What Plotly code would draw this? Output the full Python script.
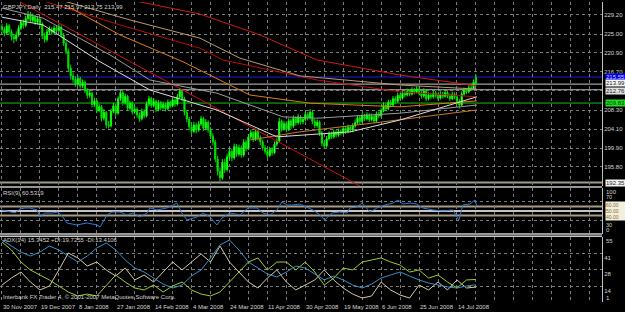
import plotly.graph_objects as go

# ---------------- data ----------------
closes = [226.0, 225.2, 226.8, 225.5, 224.5, 223.9, 224.8, 226.3, 227.5, 226.9,
          228.4, 229.3, 228.0, 228.8, 227.6, 228.3, 227.2, 224.6, 223.8, 225.5,
          226.0, 225.4, 226.3, 225.8, 226.5, 224.8, 223.0, 221.2, 217.5, 215.8,
          215.0, 214.0, 215.2, 213.6, 214.4, 212.6, 211.5, 212.0, 209.5, 210.3,
          208.2, 209.0, 206.5, 207.8, 205.0, 204.8, 208.0, 209.2, 207.6, 210.8,
          212.1, 209.9, 211.3, 208.7, 209.8, 207.9, 208.5, 207.2, 206.4, 208.0,
          207.0, 209.6, 210.8, 209.3, 210.2, 208.4, 209.9, 208.8, 209.5, 208.6,
          210.0, 209.2, 210.5, 209.6, 211.2, 212.4, 210.8, 207.8, 206.3, 204.6,
          203.6, 205.0, 203.9, 205.2, 206.4, 204.3, 205.6, 204.0, 202.6, 201.3,
          197.5, 194.8, 193.4, 196.8, 195.2, 198.0, 199.2, 197.8, 200.3, 198.6,
          200.0, 198.4, 201.2, 199.8, 202.4, 203.3, 201.9, 203.6, 202.2, 201.3,
          200.0, 199.2, 198.3, 199.6, 198.9, 200.8, 201.5, 205.8, 204.2, 205.3,
          204.0, 205.9, 204.8, 206.5, 205.5, 206.8, 205.7, 206.2, 207.3, 206.6,
          207.8, 205.8, 204.9, 205.6, 203.2, 201.0, 200.4, 202.0, 203.0, 202.4,
          203.4, 202.8, 203.6, 203.2, 204.2, 203.6, 204.5, 203.9, 204.8, 205.5,
          206.6, 205.8, 207.0, 206.4, 207.2, 206.2, 206.9, 205.9, 207.4, 207.0,
          208.2, 209.3, 208.6, 210.0, 209.4, 210.8, 210.2, 211.5, 210.9, 212.0,
          211.6, 212.4, 211.8, 212.7, 212.2, 212.9, 212.0, 211.4, 212.5, 210.8,
          211.6, 211.2, 212.0, 211.5, 210.9, 211.8, 211.3, 212.1, 211.4, 210.8,
          211.7, 211.2, 210.2, 209.4, 211.8, 212.6, 212.3, 213.2, 213.0, 214.4,
          213.99]
highs = [227.3, 226.6, 227.4, 227.2, 226.0, 225.0, 225.6, 226.9, 228.1, 228.2,
         229.0, 230.1, 229.8, 229.5, 229.2, 228.9, 228.7, 227.6, 225.3, 226.1,
         226.7, 226.5, 226.9, 226.8, 227.3, 226.9, 225.2, 223.6, 221.8, 218.3,
         216.6, 215.7, 215.9, 215.6, 215.0, 214.8, 213.1, 212.7, 212.3, 211.0,
         210.7, 209.7, 209.4, 208.5, 208.1, 205.9, 208.6, 209.9, 209.6, 211.3,
         212.8, 212.5, 211.9, 211.7, 210.4, 210.2, 209.1, 208.9, 207.8, 208.6,
         208.5, 210.2, 211.4, 211.2, 210.9, 210.6, 210.5, 210.3, 210.1, 209.9,
         210.6, 210.4, 211.1, 210.9, 211.8, 213.1, 212.8, 211.2, 208.3, 206.8,
         205.2, 205.7, 205.5, 205.9, 207.0, 206.8, 206.3, 206.0, 204.5, 203.2,
         201.8, 198.2, 195.6, 197.5, 197.6, 198.7, 200.0, 199.8, 200.9, 200.8,
         200.7, 200.5, 201.9, 201.7, 203.0, 204.0, 203.7, 204.2, 204.0, 202.7,
         201.8, 200.6, 199.8, 200.2, 200.1, 201.4, 202.1, 206.6, 206.2, 205.9,
         205.8, 206.5, 206.3, 207.1, 206.9, 207.4, 207.2, 206.8, 207.9, 207.8,
         208.5, 208.2, 206.3, 206.2, 206.0, 203.7, 201.6, 202.6, 203.6, 203.5,
         204.0, 203.9, 204.2, 204.1, 204.8, 204.7, 205.1, 205.0, 205.4, 206.2,
         207.2, 207.1, 207.6, 207.5, 207.8, 207.6, 207.5, 207.3, 208.0, 208.0,
         208.8, 210.0, 209.8, 210.6, 210.5, 211.4, 211.3, 212.1, 212.0, 212.6,
         212.7, 213.0, 212.9, 213.3, 213.2, 213.5, 213.3, 212.5, 213.1, 212.9,
         212.2, 212.1, 212.6, 212.5, 212.0, 212.4, 212.3, 212.7, 212.6, 211.9,
         212.3, 212.2, 211.6, 210.7, 212.4, 213.2, 213.1, 213.8, 213.9, 215.0,
         215.97]
lows = [225.1, 224.5, 224.9, 224.9, 223.6, 223.0, 223.4, 224.4, 225.9, 226.2,
        226.5, 227.9, 227.4, 227.5, 227.0, 227.1, 226.5, 223.9, 223.1, 223.3,
        225.0, 224.8, 225.0, 225.2, 225.4, 224.2, 222.4, 220.6, 216.8, 215.0,
        214.3, 213.4, 213.6, 213.0, 213.1, 212.0, 210.8, 211.0, 208.9, 209.0,
        207.6, 207.8, 205.8, 206.0, 204.3, 204.2, 204.5, 207.6, 207.0, 207.3,
        210.3, 209.3, 209.5, 208.1, 208.2, 207.3, 207.5, 206.6, 205.7, 206.0,
        206.5, 206.7, 209.1, 208.8, 208.9, 207.8, 208.0, 208.2, 208.4, 208.0,
        208.2, 208.7, 208.9, 209.0, 209.3, 210.9, 210.2, 207.1, 205.6, 203.9,
        202.9, 203.2, 203.2, 203.5, 204.8, 203.7, 203.9, 203.3, 201.9, 200.5,
        196.8, 193.9, 192.6, 193.0, 194.5, 194.8, 197.4, 197.0, 197.4, 198.0,
        198.1, 197.8, 198.0, 199.2, 199.5, 201.9, 201.3, 201.5, 201.6, 200.6,
        199.4, 198.6, 197.7, 198.0, 198.3, 198.6, 200.3, 201.2, 203.6, 203.8,
        203.4, 203.7, 204.2, 204.4, 204.9, 205.1, 205.1, 205.2, 205.8, 206.0,
        206.2, 205.2, 204.3, 204.4, 202.6, 200.3, 199.7, 200.0, 201.6, 201.9,
        202.0, 202.3, 202.4, 202.7, 202.9, 203.1, 203.2, 203.4, 203.5, 204.4,
        205.1, 205.2, 205.4, 205.9, 206.0, 205.7, 205.8, 205.4, 205.6, 206.5,
        206.7, 207.8, 208.0, 208.3, 208.9, 209.1, 209.7, 209.9, 210.4, 210.6,
        211.1, 211.3, 211.3, 211.5, 211.7, 211.9, 211.5, 210.8, 211.0, 210.2,
        210.4, 210.7, 210.8, 211.0, 210.4, 210.6, 210.8, 211.0, 210.9, 210.3,
        210.5, 210.7, 209.5, 208.6, 209.1, 211.4, 211.8, 212.0, 212.5, 212.7,
        213.75]
first_open = 226.6
last_open = 215.47
opens = [first_open] + closes[:-2] + [last_open]
bars = list(range(len(closes)))

# moving-average / trend lines: (bar, price) vertices
trend_bars = [6, 151];                 trend_vals = [232.5, 191.6]
red_top_bars = [54, 83.5, 108.9, 132.9, 167.9, 200.4]
red_top_vals = [232.5, 229.4, 224.8, 219.3, 216.0, 213.6]
red2_bars = [16, 49.8, 83.5, 93.2, 132.9, 167.9, 200.4]
red2_vals = [232.5, 227.0, 221.9, 219.3, 214.9, 212.3, 211.2]
tan_bars = [24.5, 54, 83.5, 100.4, 125.7, 167.9, 200.4]
tan_vals = [232.5, 228.1, 224.1, 219.7, 215.8, 213.8, 212.9]
orange_bars = [26.6, 49.8, 76.4, 104.6, 130.0, 167.9, 200.4]
orange_vals = [231.4, 224.8, 218.9, 211.6, 209.8, 209.0, 210.3]
gray_bars = [0, 17.3, 45.6, 62.4, 90.7, 118.6, 132.9, 167.9, 200.4]
gray_vals = [230.7, 228.5, 220.4, 214.9, 212.0, 206.8, 206.5, 207.6, 209.4]
white_bars = [0, 17.3, 41.4, 62.4, 90.7, 116.0, 147.0, 167.9, 200.4]
white_vals = [228.7, 227.0, 218.9, 212.7, 208.3, 202.4, 203.5, 206.1, 211.2]
brown_bars = [104.6, 125.7, 160.8, 200.4]
brown_vals = [201.7, 203.5, 205.7, 208.3]

# horizontal price levels
level_blue = 215.55
level_close = 213.99
level_gray = 212.76
level_green = 209.83
level_low = 192.35

# RSI(9)
rsi_bars = [0, 3.4, 5.5, 7.6, 9.7, 11.8, 14.8, 16.0, 18.1, 21.5, 23.6, 25.7, 27.4,
            31.6, 35.9, 40.1, 41.4, 42.6, 44.3, 46.4, 49.8, 52.7, 55.3, 58.2, 61.2,
            62.4, 65.4, 69.6, 72.2, 73.8, 75.9, 78.1, 82.3, 84.8, 87.8, 90.7, 92.8,
            96.2, 100.4, 103.8, 107.6, 110.1, 113.1, 116.0, 118.1, 120.3, 122.8,
            125.7, 126.6, 128.7, 131.2, 134.2, 136.3, 139.2, 142.6, 145.6, 146.8,
            149.8, 151.9, 155.3, 158.2, 161.6, 165.0, 167.1, 169.2, 172.2, 175.1,
            177.6, 181.9, 186.1, 190.3, 192.0, 192.8, 194.5, 197.5, 199.6, 200.4]
rsi_vals = [52.2, 47.8, 45.7, 54.3, 56.5, 56.5, 52.2, 37.0, 45.7, 45.7, 47.8, 37.0, 23.9,
            19.6, 23.9, 19.6, 15.2, 26.1, 41.3, 47.8, 47.8, 41.3, 45.7, 37.0, 45.7,
            56.5, 52.2, 56.5, 63.0, 67.4, 45.7, 30.4, 37.0, 45.7, 37.0, 19.6, 34.8,
            45.7, 41.3, 56.5, 56.5, 45.7, 41.3, 52.2, 69.6, 63.0, 63.0,
            65.2, 63.0, 58.7, 52.2, 41.3, 30.4, 45.7, 47.8, 45.7, 56.5,
            58.7, 67.4, 47.8, 56.5, 63.0, 67.4, 73.9, 65.2, 67.4, 65.2,
            56.5, 52.2, 50.0, 52.2, 37.0, 30.4, 63.0, 65.2, 73.9, 60.53]
rsi_levels = [60, 50, 40]

# ADX(14), every 4th bar
adx_bars = list(range(0, 201, 4))
adx_main = [52.5, 47.5, 42.5, 39.2, 42.5, 47.5, 44.2, 39.2, 34.2, 39.2,
            45.9, 50.0, 44.2, 35.9, 29.2, 25.9, 20.9, 15.9, 12.6, 15.1,
            22.6, 27.6, 37.6, 48.4, 52.5, 44.2, 34.2, 29.2, 24.3, 21.8,
            25.9, 30.9, 29.2, 24.3, 19.3, 22.6, 19.3, 15.1, 12.6, 15.9,
            20.9, 23.4, 25.9, 22.6, 19.3, 16.8, 15.1, 13.5, 12.6, 14.3, 15.35]
plus_di = [50.8, 44.2, 34.2, 27.6, 23.4, 19.3, 14.3, 9.3, 6.0, 7.6,
           6.0, 15.1, 23.4, 17.6, 12.6, 11.0, 15.1, 9.3, 14.3, 17.6,
           11.0, 7.6, 6.0, 9.3, 17.6, 25.9, 34.2, 37.6, 27.6, 34.2,
           34.2, 27.6, 34.2, 25.9, 15.1, 20.9, 29.2, 27.6, 34.2, 35.9,
           37.6, 34.2, 31.7, 25.9, 27.6, 20.9, 23.4, 17.6, 12.6, 19.3, 19.73]
minus_di = [15.1, 20.9, 25.9, 17.6, 11.0, 14.3, 27.6, 41.7, 37.6, 30.9,
            34.2, 27.6, 22.6, 29.2, 19.3, 23.4, 17.6, 25.9, 34.2, 27.6,
            34.2, 40.9, 34.2, 47.5, 34.2, 25.9, 17.6, 12.6, 20.9, 27.6,
            17.6, 11.0, 15.1, 19.3, 27.6, 19.3, 12.6, 7.6, 4.3, 6.0,
            17.6, 11.0, 6.8, 4.3, 15.1, 11.0, 17.6, 11.0, 19.3, 12.6, 13.41]

# axis labels
date_bars = [0, 16, 32, 48, 64, 80, 96, 112, 128, 144, 160, 176, 192]
date_labels = ["30 Nov 2007", "19 Dec 2007", "8 Jan 2008", "27 Jan 2008", "14 Feb 2008",
               "4 Mar 2008", "24 Mar 2008", "11 Apr 2008", "30 Apr 2008", "19 May 2008",
               "6 Jun 2008", "25 Jun 2008", "14 Jul 2008"]
price_ticks = [195.80, 199.90, 204.10, 208.30, 212.50, 216.70, 220.90, 225.00, 229.20]
price_tick_text = ["195.80", "199.90", "204.10", "208.30", "", "216.70", "220.90", "225.00", "229.20"]
rsi_ticks = [70, 30]
adx_ticks = [41, 28, 14]

# ---------------- styling ----------------
FONT = "Liberation Sans"
FS = 6
TXT = "#d4d4d4"
GRID = "#7c7c7c"
BG = "#000000"

fig = go.Figure()

def line(xs, ys, color, yaxis="y", width=1):
    fig.add_trace(go.Scatter(x=xs, y=ys, mode="lines", yaxis=yaxis,
                             line=dict(color=color, width=width), hoverinfo="skip"))

line(trend_bars, trend_vals, "#d01010")
line(red_top_bars, red_top_vals, "#d01818")
line(red2_bars, red2_vals, "#b80c0c")
line(tan_bars, tan_vals, "#b89a68")
line(orange_bars, orange_vals, "#e07a10")
line(brown_bars, brown_vals, "#c87a28")
line(gray_bars, gray_vals, "#9a9a9a")
line(white_bars, white_vals, "#dcdcdc")

fig.add_trace(go.Candlestick(
    x=bars, open=opens, high=highs, low=lows, close=closes, yaxis="y",
    increasing=dict(line=dict(color="#00ff00", width=1), fillcolor="#c8ffc0"),
    decreasing=dict(line=dict(color="#00dd00", width=1), fillcolor="#00ff00"),
    whiskerwidth=0, hoverinfo="skip"))

line(rsi_bars, rsi_vals, "#2f78d6", yaxis="y2")
line(adx_bars, minus_di, "#d9c9a3", yaxis="y3")
line(adx_bars, plus_di, "#9acd32", yaxis="y3")
line(adx_bars, adx_main, "#3a8fc8", yaxis="y3")

shapes = []
def hline(val, yref, color, width=1):
    shapes.append(dict(type="line", xref="paper", x0=0, x1=1, yref=yref, y0=val, y1=val,
                       line=dict(color=color, width=width), layer="below"))

hline(level_blue, "y", "#1a1ae6")
hline(level_close, "y", "#c8c8c8")
hline(level_gray, "y", "#b4b4b4")
hline(level_green, "y", "#16c016")
hline(level_low, "y", "#a09a8a", 2)
for v, c in zip(rsi_levels, ["#a89c84", "#c4c4c4", "#a89c84"]):
    hline(v, "y2", c, 2)

# panel separators
for yp in [0.3835, 0.2265, 0.2195]:
    shapes.append(dict(type="line", xref="paper", x0=0, x1=1, yref="paper", y0=yp, y1=yp,
                       line=dict(color="#c8c8c8", width=1.5)))

ann = []
def label(text, x, y, xref, yref, xanchor="left", yanchor="middle", bg=None, color=TXT,
          xshift=0, yshift=0, width=None, size=FS):
    d = dict(text=text, x=x, y=y, xref=xref, yref=yref, xanchor=xanchor, yanchor=yanchor,
             showarrow=False, font=dict(family=FONT, size=size, color=color),
             xshift=xshift, yshift=yshift, borderpad=0)
    if bg:
        d["bgcolor"] = bg
    if width:
        d["width"] = width
        d["align"] = "left"
    ann.append(d)

label("GBPJPY,Daily  215.47 215.97 213.75 213.99", 0.004, 1.0, "paper", "paper", yanchor="top", yshift=-1)
label("RSI(9) 60.5319", 0.004, 0.362, "paper", "paper")
label("ADX(14) 15.3452 +DI:19.7255 -DI:13.4106", 0.004, 0.206, "paper", "paper")
label("Interbank FX Trader 4, © 2001-2007 MetaQuotes Software Corp.", 0.004, 0.018, "paper", "paper")

for b, t in zip(date_bars, date_labels):
    label(t, b, 0, "x", "paper", yanchor="top", yshift=-1)

label(f"{level_blue:.2f}", 1, level_blue, "paper", "y", bg="#0000f0", color="#d0d0ff", xshift=3, width=20)
label(f"{level_close:.2f}", 1, level_close, "paper", "y", bg="#f4f4f4", color="#202020", xshift=3, width=20, yshift=1)
label(f"{level_gray:.2f}", 1, level_gray, "paper", "y", bg="#e0e0e0", color="#202020", xshift=3, width=20, yshift=-1)
label(f"{level_green:.2f}", 1, level_green, "paper", "y", bg="#20e020", color="#103010", xshift=3, width=20)
label(f"{level_low:.2f}", 1, level_low, "paper", "y", bg="#f4f4f4", color="#202020", xshift=3, width=20)
for v, sh in zip(rsi_levels, [1.2, 0, -1.2]):
    label(f"{v:.2f}", 1, v, "paper", "y2", bg="#f2f0dc", color="#8a6a20", xshift=3, width=20,
          yshift=sh, size=5)
label("100", 1, 100, "paper", "y2", yanchor="top", xshift=3)
label("70", 1, rsi_ticks[0], "paper", "y2", yanchor="bottom", xshift=3, yshift=1, size=5.5)
label("30", 1, rsi_ticks[1], "paper", "y2", yanchor="top", xshift=3, yshift=-1, size=5.5)
label("0", 1, 0, "paper", "y2", yanchor="bottom", xshift=3)
label("55", 1, 55, "paper", "y3", yanchor="top", xshift=3)
label("1", 1, 1, "paper", "y3", yanchor="bottom", xshift=3)

yax = dict(side="right", showgrid=True, gridcolor=GRID, griddash="dot", gridwidth=1,
           zeroline=False, showline=True, linecolor="#c0c0c0", linewidth=1, ticks="",
           tickfont=dict(family=FONT, size=FS, color=TXT), fixedrange=True)

fig.update_layout(
    width=625, height=312, margin=dict(l=0, r=23, t=2, b=10),
    paper_bgcolor=BG, plot_bgcolor=BG, showlegend=False,
    font=dict(family=FONT, size=FS, color=TXT),
    xaxis=dict(range=[-0.84, 253.2], tickvals=list(range(0, 253, 8)), showticklabels=False,
               showgrid=True, gridcolor=GRID, griddash="dot", gridwidth=1, zeroline=False,
               rangeslider=dict(visible=False), anchor="y3", ticks="", showline=False),
    yaxis=dict(yax, domain=[0.3867, 1.0], range=[191.6, 232.04], tickvals=price_ticks,
               ticktext=price_tick_text, anchor="x"),
    yaxis2=dict(yax, domain=[0.2267, 0.38], range=[0, 100], tickvals=rsi_ticks, anchor="x",
                showticklabels=False),
    yaxis3=dict(yax, domain=[0.0, 0.2167], range=[1, 55], tickvals=adx_ticks, anchor="x",
                ticklabelposition="outside bottom"),
    shapes=shapes, annotations=ann,
)

fig.write_html("out.html")
